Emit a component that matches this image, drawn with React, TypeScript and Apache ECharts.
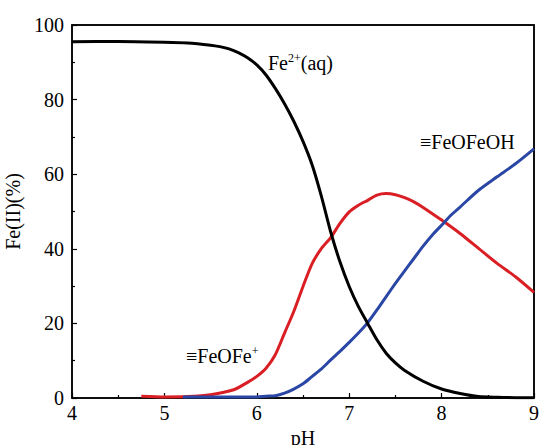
import React, { useEffect, useRef } from "react";
import * as echarts from "echarts";

const phFe2 = [4.0, 4.5, 5.0, 5.25, 5.5, 5.6, 5.7, 5.8, 5.9, 6.0, 6.1, 6.2, 6.3, 6.4, 6.5, 6.6, 6.7, 6.8, 6.9, 7.0, 7.1, 7.2, 7.3, 7.4, 7.5, 7.6, 7.8, 8.0, 8.2, 8.4, 8.6, 8.8, 9.0];
const fe2 = [95.5, 95.6, 95.4, 95.2, 94.6, 94.2, 93.6, 92.6, 91.2, 89.3, 86.6, 83.0, 78.9, 74.2, 68.8, 62.4, 54.0, 44.5, 36.5, 29.9, 24.5, 20.0, 15.6, 12.0, 9.4, 7.4, 4.5, 2.4, 1.2, 0.4, 0.2, 0.1, 0.1];

const phFeOFe = [4.75, 5.0, 5.25, 5.5, 5.75, 5.9, 6.0, 6.1, 6.2, 6.3, 6.4, 6.5, 6.6, 6.7, 6.8, 6.9, 7.0, 7.1, 7.2, 7.3, 7.4, 7.5, 7.6, 7.7, 7.8, 8.0, 8.2, 8.4, 8.6, 8.8, 9.0];
const feOFe = [0.5, 0.3, 0.4, 0.9, 2.2, 4.2, 5.8, 8.0, 11.6, 17.4, 23.2, 29.9, 36.1, 40.1, 43.0, 46.8, 49.9, 51.7, 53.0, 54.4, 54.8, 54.5, 53.7, 52.6, 51.1, 47.7, 44.1, 40.1, 36.1, 32.5, 28.3];

const phFeOFeOH = [5.2, 5.5, 6.0, 6.1, 6.2, 6.3, 6.4, 6.5, 6.6, 6.7, 6.8, 6.9, 7.0, 7.1, 7.2, 7.3, 7.4, 7.5, 7.6, 7.7, 7.8, 7.9, 8.0, 8.1, 8.2, 8.4, 8.6, 8.8, 9.0];
const feOFeOH = [0.3, 0.3, 0.3, 0.5, 0.6, 1.3, 2.4, 3.8, 5.8, 7.8, 10.2, 12.5, 14.9, 17.4, 20.2, 23.6, 27.2, 30.7, 34.1, 37.4, 40.7, 43.7, 46.3, 49.0, 51.2, 55.7, 59.3, 62.8, 66.8];

const zip = (xs: number[], ys: number[]) => xs.map((x, i) => [x, ys[i]]);

const FONT = "Liberation Serif";

export default function App() {
  const ref = useRef<HTMLDivElement>(null);
  useEffect(() => {
    if (!ref.current) return;
    document.body.style.margin = "0";
    const chart = echarts.init(ref.current, null, { renderer: "svg" });
    const axisCommon = {
      axisLine: { show: true, onZero: false, lineStyle: { color: "#000", width: 1.5 } },
      axisTick: { show: true, inside: true, length: 5, lineStyle: { color: "#000", width: 1.2 } },
      minorTick: { show: true, splitNumber: 2, length: 3, lineStyle: { color: "#000", width: 1.2 } },
      splitLine: { show: false },
      axisLabel: { color: "#000", fontFamily: FONT, fontSize: 20, showMaxLabel: true },
      nameTextStyle: { color: "#000", fontFamily: FONT, fontSize: 20 },
    };
    const frame = {
      axisLine: { show: true, onZero: false, lineStyle: { color: "#000", width: 1.5 } },
      axisTick: { show: false },
      axisLabel: { show: false },
      splitLine: { show: false },
    };
    chart.setOption({
      animation: false,
      backgroundColor: "#fff",
      textStyle: { fontFamily: FONT },
      grid: {
        left: 72, right: 6, top: 25, bottom: 47,
        containLabel: false, outerBoundsMode: "none",
        show: true, borderColor: "#000", borderWidth: 1.5, backgroundColor: "rgba(0,0,0,0)",
      },
      xAxis: [
        {
          ...axisCommon,
          type: "value",
          min: 4,
          max: 9,
          interval: 1,
          name: "pH",
          nameLocation: "middle",
          nameGap: 29,
          axisLabel: { ...axisCommon.axisLabel, margin: 5 },
        },
        { ...frame, type: "value", position: "top", min: 4, max: 9 },
      ],
      yAxis: [
        {
          ...axisCommon,
          type: "value",
          min: 0,
          max: 100,
          interval: 20,
          name: "Fe(II)(%)",
          nameLocation: "middle",
          nameGap: 36,
          axisLabel: { ...axisCommon.axisLabel, margin: 8 },
        },
        { ...frame, type: "value", position: "right", min: 0, max: 100 },
      ],
      series: [
        {
          name: "Fe2+(aq)",
          type: "line",
          data: zip(phFe2, fe2),
          smooth: 0.25,
          showSymbol: false,
          lineStyle: { color: "#000", width: 3 },
          z: 3,
        },
        {
          name: "≡FeOFe+",
          type: "line",
          data: zip(phFeOFe, feOFe),
          smooth: 0.25,
          showSymbol: false,
          lineStyle: { color: "#d91e24", width: 3 },
          z: 2,
        },
        {
          name: "≡FeOFeOH",
          type: "line",
          data: zip(phFeOFeOH, feOFeOH),
          smooth: 0.25,
          showSymbol: false,
          lineStyle: { color: "#2b47a6", width: 3 },
          z: 2,
        },
      ],
      graphic: [
        {
          type: "text",
          left: 268,
          top: 52,
          style: {
            rich: {
              n: { fontFamily: FONT, fontSize: 20, fill: "#000" },
              s: { fontFamily: FONT, fontSize: 12, fill: "#000", padding: [0, 0, 9, 0] },
            },
            text: "{n|Fe}{s|2+}{n|(aq)}",
          },
        },
        {
          type: "text",
          left: 420,
          top: 132,
          style: { text: "≡FeOFeOH", fontFamily: FONT, fontSize: 20, fill: "#000" },
        },
        {
          type: "text",
          left: 186,
          top: 345,
          style: {
            rich: {
              n: { fontFamily: FONT, fontSize: 20, fill: "#000" },
              s: { fontFamily: FONT, fontSize: 12, fill: "#000", padding: [0, 0, 9, 0] },
            },
            text: "{n|≡FeOFe}{s|+}",
          },
        },
      ],
    });
    return () => chart.dispose();
  }, []);
  return <div ref={ref} style={{ width: 540, height: 445, position: "fixed", left: 0, top: 0 }} />;
}
